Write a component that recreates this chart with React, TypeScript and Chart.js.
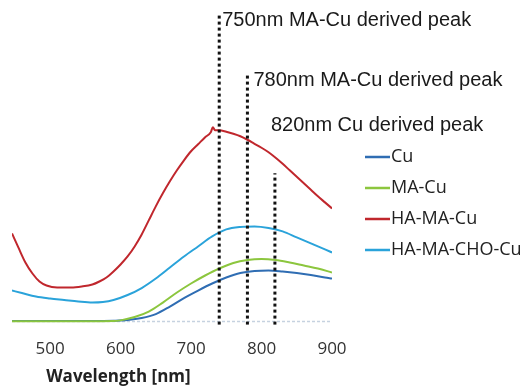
import React, { useEffect, useRef } from "react";
import { Chart, registerables } from "chart.js";

Chart.register(...registerables);

// ---- data ----
const SERIES_NAMES = ["Cu", "MA-Cu", "HA-MA-Cu", "HA-MA-CHO-Cu"];
const SERIES_COLORS = ["#2f6db3", "#8cc63e", "#c0272d", "#2aa3da"];

const CU_NM = [446, 480, 520, 560, 590, 610, 630, 650, 670, 690, 710, 730, 750, 770, 790, 810, 830, 850, 870, 890, 900];
const CU_VAL = [0.005, 0.005, 0.005, 0.005, 0.008, 0.015, 0.035, 0.075, 0.15, 0.235, 0.31, 0.38, 0.44, 0.485, 0.505, 0.51, 0.5, 0.485, 0.465, 0.44, 0.43];

const MACU_NM = [446, 500, 550, 590, 600, 620, 640, 660, 680, 700, 720, 740, 760, 780, 800, 820, 840, 860, 880, 900];
const MACU_VAL = [0.003, 0.003, 0.003, 0.005, 0.012, 0.045, 0.1, 0.19, 0.29, 0.38, 0.46, 0.53, 0.585, 0.615, 0.625, 0.615, 0.59, 0.56, 0.53, 0.49];

const HAMACU_NM = [446, 455, 465, 475, 485, 495, 510, 530, 545, 560, 570, 580, 590, 600, 610, 620, 630, 640, 650, 660, 670, 680, 690, 700, 710, 720, 728, 731, 734, 740, 750, 760, 770, 780, 790, 800, 810, 820, 830, 840, 850, 860, 870, 880, 890, 900];
const HAMACU_VAL = [0.88, 0.74, 0.59, 0.48, 0.4, 0.36, 0.34, 0.34, 0.35, 0.37, 0.4, 0.44, 0.5, 0.57, 0.65, 0.75, 0.87, 1.01, 1.15, 1.28, 1.4, 1.51, 1.61, 1.7, 1.77, 1.84, 1.89, 1.94, 1.91, 1.91, 1.895, 1.875, 1.85, 1.815, 1.775, 1.735, 1.69, 1.635, 1.575, 1.51, 1.445, 1.38, 1.315, 1.25, 1.19, 1.13];

const CHO_NM = [446, 460, 480, 500, 520, 540, 560, 575, 590, 610, 630, 650, 670, 690, 710, 730, 750, 770, 790, 810, 830, 850, 870, 890, 900];
const CHO_VAL = [0.31, 0.285, 0.25, 0.23, 0.215, 0.2, 0.19, 0.195, 0.215, 0.265, 0.335, 0.43, 0.54, 0.65, 0.75, 0.85, 0.92, 0.945, 0.95, 0.935, 0.9, 0.84, 0.78, 0.72, 0.69];

const PEAK_NM = [740, 780, 819];
const PEAK_TOP = [3.07, 2.46, 1.48];
const PEAK_LABELS = ["750nm MA-Cu derived peak", "780nm MA-Cu derived peak", "820nm Cu derived peak"];
const PEAK_LABEL_Y = [3.01, 2.41, 1.96];

const X_TICKS = [500, 600, 700, 800, 900];
const X_TITLE = "Wavelength [nm]";

const SERIES_NM = [CU_NM, MACU_NM, HAMACU_NM, CHO_NM];
const SERIES_VAL = [CU_VAL, MACU_VAL, HAMACU_VAL, CHO_VAL];

const toPts = (xs: number[], ys: number[]) => xs.map((x, i) => ({ x, y: ys[i] }));

const overlayPlugin = {
  id: "overlay",
  afterDraw(chart: any) {
    const { ctx, chartArea, scales } = chart;
    const xs = scales.x;
    const ys = scales.y;
    ctx.save();
    // peak labels
    ctx.fillStyle = "#1a1a1a";
    ctx.font = '20px "Liberation Sans", Arial, sans-serif';
    ctx.textBaseline = "middle";
    ctx.textAlign = "left";
    const offsets = [3, 6, -4];
    PEAK_LABELS.forEach((t, i) => {
      ctx.fillText(t, xs.getPixelForValue(PEAK_NM[i]) + offsets[i], ys.getPixelForValue(PEAK_LABEL_Y[i]));
    });
    // legend
    const lx = chartArea.right + 33;
    const ly0 = 157;
    const step = 31;
    ctx.font = '18px "Open Sans", sans-serif';
    ctx.fillStyle = "#222";
    SERIES_NAMES.forEach((n, i) => {
      const y = ly0 + i * step;
      ctx.strokeStyle = SERIES_COLORS[i];
      ctx.lineWidth = 2.5;
      ctx.beginPath();
      ctx.moveTo(lx, y);
      ctx.lineTo(lx + 25, y);
      ctx.stroke();
      ctx.fillText(n, lx + 26, y);
    });
    // axis title
    ctx.font = 'bold 17px "Open Sans", sans-serif';
    ctx.textAlign = "center";
    ctx.fillStyle = "#222";
    ctx.fillText(X_TITLE, xs.getPixelForValue(597), 377);
    ctx.restore();
  },
};

export default function App() {
  const ref = useRef<HTMLCanvasElement>(null);
  useEffect(() => {
    if (!ref.current) return;
    const datasets: any[] = SERIES_NAMES.map((name, i) => ({
      label: name,
      data: toPts(SERIES_NM[i], SERIES_VAL[i]),
      borderColor: SERIES_COLORS[i],
      borderWidth: 2,
      pointRadius: 0,
      cubicInterpolationMode: "monotone",
      order: 5 - i,
    }));
    PEAK_NM.forEach((nm, i) => {
      datasets.push({
        label: "peak" + i,
        data: [
          { x: nm, y: -0.03 },
          { x: nm, y: PEAK_TOP[i] },
        ],
        borderColor: "#111",
        borderWidth: 3,
        borderDash: [3, 3],
        pointRadius: 0,
        order: 0,
      });
    });
    datasets.push({
      label: "baseline",
      data: [
        { x: 446, y: 0 },
        { x: 900, y: 0 },
      ],
      borderColor: "#c6d2e0",
      borderWidth: 1.5,
      borderDash: [3, 2],
      pointRadius: 0,
      order: 10,
    });
    const chart = new Chart(ref.current, {
      type: "line",
      data: { datasets },
      plugins: [overlayPlugin],
      options: {
        animation: false,
        responsive: true,
        maintainAspectRatio: false,
        layout: { padding: { left: 12, right: 194, top: 1, bottom: 25 } },
        plugins: { legend: { display: false }, tooltip: { enabled: false } },
        scales: {
          x: {
            type: "linear",
            min: 446,
            max: 900,
            afterBuildTicks: (axis: any) => {
              axis.ticks = X_TICKS.map((v) => ({ value: v }));
            },
            ticks: {
              font: { family: '"Open Sans", sans-serif', size: 17 },
              color: "#333",
              padding: 7,
              maxRotation: 0,
            },
            grid: { display: false, drawTicks: false },
            border: { display: false },
          },
          y: { display: false, min: -0.1, max: 3.2 },
        },
      },
    });
    return () => chart.destroy();
  }, []);
  return (
    <div style={{ position: "absolute", left: 0, top: 0, width: 526, height: 391, background: "#fff" }}>
      <canvas ref={ref} />
    </div>
  );
}
